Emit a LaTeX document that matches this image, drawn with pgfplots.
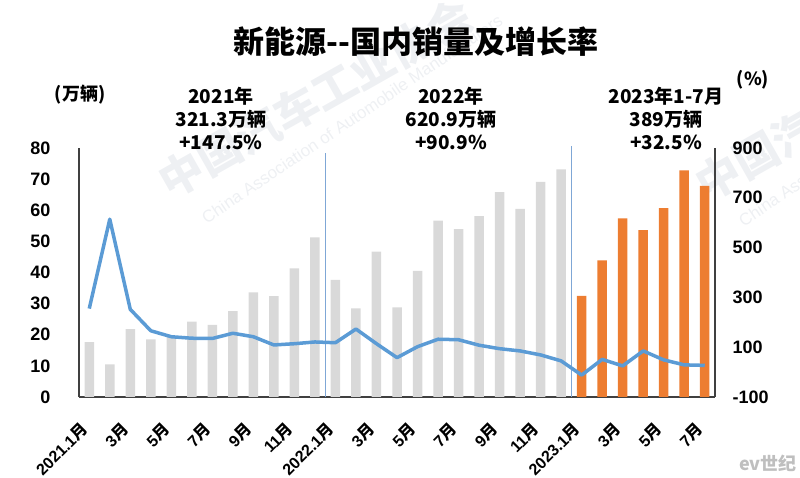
\documentclass[border=0pt]{standalone}
\usepackage{pgfplots}
\pgfplotsset{compat=1.18}
\usepackage{fontspec}
\setmainfont{Liberation Sans}
\newfontfamily\cjk{Noto Sans CJK SC}
\definecolor{bargray}{HTML}{D9D9D9}
\definecolor{barorange}{HTML}{ED7D31}
\definecolor{lineblue}{HTML}{5B9BD5}
\definecolor{sepblue}{HTML}{7FA7D6}
\definecolor{axisgray}{HTML}{404040}
\definecolor{wm}{HTML}{EEF0F3}
\begin{document}
\begin{tikzpicture}[x=1pt,y=1pt]
\useasboundingbox (0,0) rectangle (800,478);
% faint watermark
\node[font=\cjk\bfseries\fontsize{44}{44}\selectfont, text=wm, rotate=29.5] at (315,380) {中国汽车工业协会};
\node[font=\fontsize{17}{17}\selectfont, text=wm, rotate=34] at (352,359) {China Association of Automobile Manufacturers};
\node[font=\cjk\bfseries\fontsize{44}{44}\selectfont, text=wm, rotate=29.5] at (852,377) {中国汽车工业协会};
\node[font=\fontsize{17}{17}\selectfont, text=wm, rotate=34] at (889,356) {China Association of Automobile Manufacturers};
\begin{axis}[
  at={(79pt,81pt)}, anchor=south west, scale only axis,
  width=636pt, height=249pt,
  xmin=-0.5, xmax=30.5, ymin=0, ymax=80,
  axis x line*=bottom, axis y line*=left,
  axis line style={color=axisgray, line width=1.3pt},
  major tick length=0pt,
  ytick={0,10,...,80},
  xtick={0,2,...,30},
  xticklabels={{2021.1{\cjk 月}},{3{\cjk 月}},{5{\cjk 月}},{7{\cjk 月}},{9{\cjk 月}},{11{\cjk 月}},{2022.1{\cjk 月}},{3{\cjk 月}},{5{\cjk 月}},{7{\cjk 月}},{9{\cjk 月}},{11{\cjk 月}},{2023.1{\cjk 月}},{3{\cjk 月}},{5{\cjk 月}},{7{\cjk 月}}},
  /pgf/number format/assume math mode=true,
  yticklabel style={font=\bfseries\fontsize{18}{18}\selectfont, xshift=-25pt},
  xticklabel style={font=\bfseries\fontsize{16}{16}\selectfont, xshift=-2pt, yshift=-27pt, rotate=45, anchor=east},
  clip=false,
]
\addplot[ybar, bar width=9.5pt, bar shift=0pt, fill=bargray, draw=none] coordinates {
(0,17.6) (1,10.5) (2,21.8) (3,18.5) (4,19.4) (5,24.2) (6,23.2) (7,27.6) (8,33.6) (9,32.4) (10,41.3) (11,51.3)
(12,37.6) (13,28.5) (14,46.7) (15,28.8) (16,40.5) (17,56.7) (18,53.9) (19,58.1) (20,65.8) (21,60.4) (22,69.1) (23,73.1)
};
\addplot[ybar, bar width=9.5pt, bar shift=0pt, fill=barorange, draw=none] coordinates {
(24,32.5) (25,43.9) (26,57.4) (27,53.6) (28,60.7) (29,72.8) (30,67.8)
};
\addplot[color=sepblue, line width=0.8pt] coordinates {(11.5,0) (11.5,78.5)};
\addplot[color=sepblue, line width=0.8pt] coordinates {(23.5,0) (23.5,80.5)};
\end{axis}
\begin{axis}[
  at={(79pt,81pt)}, anchor=south west, scale only axis,
  width=636pt, height=249pt,
  xmin=-0.5, xmax=30.5, ymin=-100, ymax=900,
  axis x line=none, axis y line*=right,
  axis line style={color=axisgray, line width=1.3pt},
  major tick length=0pt,
  ytick={-100,100,300,500,700,900},
  /pgf/number format/assume math mode=true,
  yticklabel style={font=\bfseries\fontsize{18}{18}\selectfont, xshift=14pt},
]
\addplot[color=lineblue, line width=3.5pt, line join=round, no marks] coordinates {
(0,255) (1,614) (2,252) (3,166) (4,142) (5,136) (6,135) (7,156) (8,142) (9,109) (10,114) (11,121)
(12,118) (13,173) (14,114) (15,58) (16,102) (17,132) (18,130) (19,108) (20,94) (21,85) (22,69) (23,45)
(24,-12) (25,51) (26,25) (27,85) (28,49) (29,29) (30,27)
};
\end{axis}
\node[font=\cjk\bfseries\fontsize{31}{31}\selectfont] at (416,436) {新能源--国内销量及增长率};
\node[font=\cjk\bfseries\fontsize{18}{18}\selectfont] at (80,383) {(万辆)};
\node[font=\cjk\bfseries\fontsize{18}{18}\selectfont] at (753,398) {(\%)};
\node[font=\cjk\bfseries\fontsize{19}{23}\selectfont, align=center] at (221,360) {2021年\\321.3万辆\\+147.5\%};
\node[font=\cjk\bfseries\fontsize{19}{23}\selectfont, align=center] at (451,360) {2022年\\620.9万辆\\+90.9\%};
\node[font=\cjk\bfseries\fontsize{19}{23}\selectfont, align=center] at (666,360) {2023年1-7月\\389万辆\\+32.5\%};
\node[font=\cjk\bfseries\itshape\fontsize{18}{18}\selectfont, text=black!25] at (768,15) {ev世纪};
\end{tikzpicture}
\end{document}
